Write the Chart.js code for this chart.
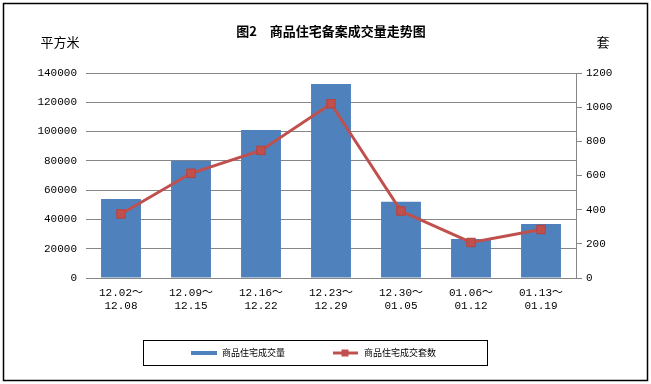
<!DOCTYPE html>
<html><head><meta charset="utf-8">
<script src="https://cdn.jsdelivr.net/npm/chart.js@4"></script>
<style>html,body{margin:0;padding:0;background:#fff;}#wrap{width:651px;height:384px;position:relative;}</style>
</head><body><div id="wrap"><canvas id="c" width="651" height="384"></canvas></div>
<script>
const categories = [["12.02～","12.08"],["12.09～","12.15"],["12.16～","12.22"],["12.23～","12.29"],["12.30～","01.05"],["01.06～","01.12"],["01.13～","01.19"]];
const areaValues = [54000, 80000, 101000, 132500, 52000, 26600, 36900];
const unitValues = [375, 613, 747, 1020, 392, 208, 284];
const seriesNames = ["商品住宅成交量", "商品住宅成交套数"];
const titleText = "图2　商品住宅备案成交量走势图";
const leftUnit = "平方米";
const rightUnit = "套";

const BAR = '#4F81BD', LINE = '#C0504D', GRID = '#868686';
const tickFont = {family: '"Liberation Mono", "Noto Sans CJK SC", monospace', size: 11};
const plain = v => String(v);

const decor = {
  id: 'decor',
  afterDraw(chart) {
    const ctx = chart.ctx;
    ctx.save();
    ctx.strokeStyle = '#000';
    ctx.lineWidth = 1.5;
    ctx.strokeRect(3.5, 3.5, 644, 377);
    ctx.fillStyle = '#000';
    ctx.textBaseline = 'middle';
    ctx.textAlign = 'center';
    ctx.font = 'bold 13px "Noto Sans CJK SC", sans-serif';
    ctx.fillText(titleText, 331, 31);
    ctx.font = '13px "Noto Sans CJK SC", sans-serif';
    ctx.fillText(leftUnit, 60, 42);
    ctx.fillText(rightUnit, 603, 42);
    // legend
    ctx.lineWidth = 1;
    ctx.strokeRect(143.5, 340.5, 344, 25);
    ctx.fillStyle = BAR;
    ctx.fillRect(191, 351, 26, 4);
    ctx.strokeStyle = LINE;
    ctx.lineWidth = 3;
    ctx.beginPath(); ctx.moveTo(333, 353); ctx.lineTo(358, 353); ctx.stroke();
    ctx.fillStyle = LINE;
    ctx.fillRect(341.5, 349.5, 7, 7);
    ctx.fillStyle = '#000';
    ctx.textAlign = 'left';
    ctx.font = '9px "Noto Sans CJK SC", sans-serif';
    ctx.fillText(seriesNames[0], 222, 353);
    ctx.fillText(seriesNames[1], 364, 353);
    ctx.restore();
  }
};

new Chart(document.getElementById('c'), {
  data: {
    labels: categories,
    datasets: [
      {type: 'line', label: seriesNames[1], data: unitValues, yAxisID: 'y1', order: 0,
       borderColor: LINE, borderWidth: 3, backgroundColor: LINE,
       pointStyle: 'rect', pointRadius: 6, pointHoverRadius: 6,
       pointBackgroundColor: LINE, pointBorderColor: '#B9413E', pointBorderWidth: 1, tension: 0},
      {type: 'bar', label: seriesNames[0], data: areaValues, yAxisID: 'y', order: 1,
       backgroundColor: BAR, categoryPercentage: 1, barPercentage: 0.57}
    ]
  },
  options: {
    responsive: false, animation: false,
    layout: {padding: {top: 73, left: 0, right: 0, bottom: 0}},
    plugins: {legend: {display: false}, title: {display: false}, tooltip: {enabled: false}},
    scales: {
      x: {
        grid: {display: false, drawTicks: false},
        border: {display: true, color: GRID, width: 1},
        ticks: {color: '#000', font: tickFont, padding: 8, maxRotation: 0, autoSkip: false},
        afterFit(s) { s.height = 106; }
      },
      y: {
        position: 'left', min: 0, max: 140000,
        ticks: {stepSize: 20000, color: '#000', font: tickFont, padding: 9, callback: plain},
        grid: {color: GRID, drawTicks: false, lineWidth: 1},
        border: {display: false},
        afterFit(s) { s.width = 86; }
      },
      y1: {
        position: 'right', min: 0, max: 1200,
        ticks: {stepSize: 200, color: '#000', font: tickFont, padding: 4, callback: plain},
        grid: {drawOnChartArea: false, drawTicks: true, tickLength: 6, color: GRID},
        border: {display: true, color: GRID},
        afterFit(s) { s.width = 75; }
      }
    }
  },
  plugins: [decor]
});
</script></body></html>
